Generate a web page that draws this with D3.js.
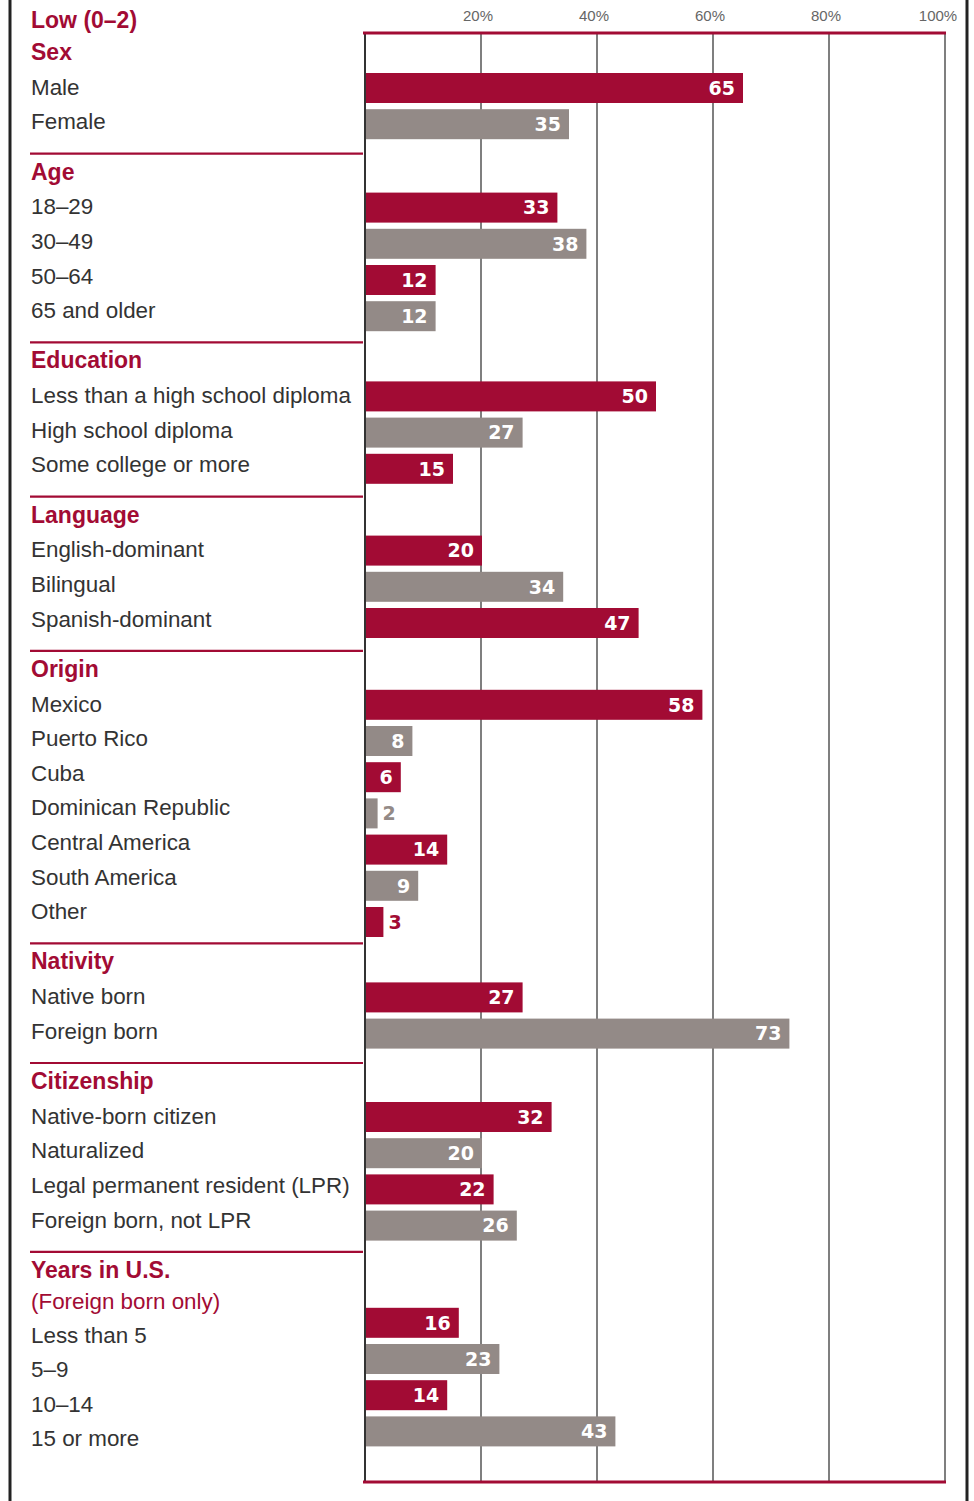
<!DOCTYPE html>
<html>
<head>
<meta charset="utf-8">
<script src="https://cdn.jsdelivr.net/npm/d3@7"></script>
<style>
  body { margin: 0; background: #fff; }
  svg { display: block; }
  .row-label { font-family: "Liberation Sans", Arial, sans-serif; font-size: 22.4px; fill: #333; }
  .group-title { font-family: "Liberation Sans", Arial, sans-serif; font-size: 23px; font-weight: bold; fill: #a20b34; }
  .group-note { font-family: "Liberation Sans", Arial, sans-serif; font-size: 22.4px; fill: #a20b34; }
  .tick-label { font-family: "Liberation Sans", Arial, sans-serif; font-size: 15px; fill: #666; }
  .bar-value { font-family: "DejaVu Sans", sans-serif; font-size: 19px; font-weight: bold; }
</style>
</head>
<body>
<svg id="chart"></svg>
<script>
// chart data
const chartTitle = 'Low (0–2)';
const groupNames = ['Sex', 'Age', 'Education', 'Language', 'Origin', 'Nativity', 'Citizenship', 'Years in U.S.'];
const groupNotes = ['', '', '', '', '', '', '', '(Foreign born only)'];
const categories = [
  ['Male', 'Female'],
  ['18–29', '30–49', '50–64', '65 and older'],
  ['Less than a high school diploma', 'High school diploma', 'Some college or more'],
  ['English-dominant', 'Bilingual', 'Spanish-dominant'],
  ['Mexico', 'Puerto Rico', 'Cuba', 'Dominican Republic', 'Central America', 'South America', 'Other'],
  ['Native born', 'Foreign born'],
  ['Native-born citizen', 'Naturalized', 'Legal permanent resident (LPR)', 'Foreign born, not LPR'],
  ['Less than 5', '5–9', '10–14', '15 or more']
];
const values = [
  [65, 35],
  [33, 38, 12, 12],
  [50, 27, 15],
  [20, 34, 47],
  [58, 8, 6, 2, 14, 9, 3],
  [27, 73],
  [32, 20, 22, 26],
  [16, 23, 14, 43]
];
const tickValues = [20, 40, 60, 80, 100];

const RED = '#a20b34';
const GRAY = '#938a87';

const config = {
  width: 974,
  height: 1501,
  plotLeft: 365,
  plotRight: 945,
  plotTop: 33,
  plotBottom: 1482,
  labelX: 31,
  firstHeader: 52,
  rowStep: 34.6,
  groupGap: 50,
  barStep: 36.2,
  barHeight: 30
};

const svg = d3.select('#chart')
    .attr('width', config.width)
    .attr('height', config.height);

const xScale = d3.scaleLinear()
    .domain([0, 100])
    .range([config.plotLeft, config.plotRight]);

// work out where each group sits
let cursor = config.firstHeader;
const layout = groupNames.map((name, gi) => {
  const hasNote = groupNotes[gi] !== '';
  const headerY = cursor;
  const firstY = headerY + 35 + (hasNote ? 30 : 0);
  const n = categories[gi].length;
  const lastY = firstY + (n - 1) * config.rowStep;
  const barFirst = firstY + (hasNote ? -12 : 1);
  const yBar = d3.scaleBand()
      .domain(categories[gi])
      .range([barFirst - config.barStep / 2, barFirst - config.barStep / 2 + n * config.barStep])
      .paddingInner((config.barStep - config.barHeight) / config.barStep)
      .paddingOuter((config.barStep - config.barHeight) / config.barStep / 2);
  cursor = lastY + config.groupGap;
  return {name, note: groupNotes[gi], headerY, firstY, lastY, yBar, index: gi};
});

// outer frame lines
svg.append('line')
    .attr('x1', 10).attr('x2', 10).attr('y1', 0).attr('y2', config.height)
    .attr('stroke', '#222').attr('stroke-width', 3);
svg.append('line')
    .attr('x1', 967).attr('x2', 967).attr('y1', 0).attr('y2', config.height)
    .attr('stroke', '#222').attr('stroke-width', 3);

// gridlines
const grid = svg.append('g').attr('class', 'grid');
grid.selectAll('line')
  .data(tickValues)
  .join('line')
    .attr('x1', d => xScale(d)).attr('x2', d => xScale(d))
    .attr('y1', config.plotTop).attr('y2', config.plotBottom)
    .attr('stroke', '#555').attr('stroke-width', 1.5);

grid.selectAll('text')
  .data(tickValues)
  .join('text')
    .attr('class', 'tick-label')
    .attr('x', d => xScale(d) - (d === 100 ? 7 : 3))
    .attr('y', 16)
    .attr('dy', '0.35em')
    .attr('text-anchor', 'middle')
    .text(d => d + '%');

// title
svg.append('text')
    .attr('class', 'group-title')
    .attr('x', config.labelX)
    .attr('y', 20)
    .attr('dy', '0.35em')
    .text(chartTitle);

// groups
const groups = svg.selectAll('.group')
  .data(layout)
  .join('g')
    .attr('class', 'group');

groups.append('text')
    .attr('class', 'group-title')
    .attr('x', config.labelX)
    .attr('y', d => d.headerY)
    .attr('dy', '0.35em')
    .text(d => d.name);

groups.filter(d => d.note !== '')
  .append('text')
    .attr('class', 'group-note')
    .attr('x', config.labelX)
    .attr('y', d => d.headerY + 31)
    .attr('dy', '0.35em')
    .text(d => d.note);

// separators above each group but the first
groups.filter(d => d.index > 0)
  .append('line')
    .attr('x1', 30).attr('x2', config.plotLeft - 2)
    .attr('y1', d => layout[d.index - 1].lastY + 32)
    .attr('y2', d => layout[d.index - 1].lastY + 32)
    .attr('stroke', RED).attr('stroke-width', 2.2);

groups.each(function(g) {
  const sel = d3.select(this);
  const rows = categories[g.index].map((c, i) => ({cat: c, value: values[g.index][i], i}));

  sel.selectAll('.row-label')
    .data(rows)
    .join('text')
      .attr('class', 'row-label')
      .attr('x', config.labelX)
      .attr('y', d => g.firstY + d.i * config.rowStep)
      .attr('dy', '0.35em')
      .text(d => d.cat);

  sel.selectAll('.bar')
    .data(rows)
    .join('rect')
      .attr('class', 'bar')
      .attr('x', xScale(0) + 1)
      .attr('y', d => g.yBar(d.cat))
      .attr('width', d => xScale(d.value) - xScale(0))
      .attr('height', g.yBar.bandwidth())
      .attr('fill', d => d.i % 2 === 0 ? RED : GRAY);

  sel.selectAll('.bar-value')
    .data(rows)
    .join('text')
      .attr('class', 'bar-value')
      .attr('y', d => g.yBar(d.cat) + g.yBar.bandwidth() / 2)
      .attr('dy', '0.36em')
      .each(function(d) {
        const w = xScale(d.value) - xScale(0);
        const inside = w > 30;
        d3.select(this)
          .attr('x', inside ? xScale(d.value) - 7 : xScale(d.value) + 6)
          .attr('text-anchor', inside ? 'end' : 'start')
          .attr('fill', inside ? '#fff' : (d.i % 2 === 0 ? RED : GRAY));
      })
      .text(d => d.value);
});

// axis frame
svg.append('line')
    .attr('x1', config.plotLeft).attr('x2', config.plotLeft)
    .attr('y1', config.plotTop).attr('y2', config.plotBottom)
    .attr('stroke', '#333').attr('stroke-width', 2);
svg.append('line')
    .attr('x1', config.plotLeft - 2).attr('x2', config.plotRight + 1)
    .attr('y1', config.plotTop).attr('y2', config.plotTop)
    .attr('stroke', RED).attr('stroke-width', 3);
svg.append('line')
    .attr('x1', config.plotLeft - 2).attr('x2', config.plotRight + 1)
    .attr('y1', config.plotBottom).attr('y2', config.plotBottom)
    .attr('stroke', RED).attr('stroke-width', 3);
</script>
</body>
</html>
